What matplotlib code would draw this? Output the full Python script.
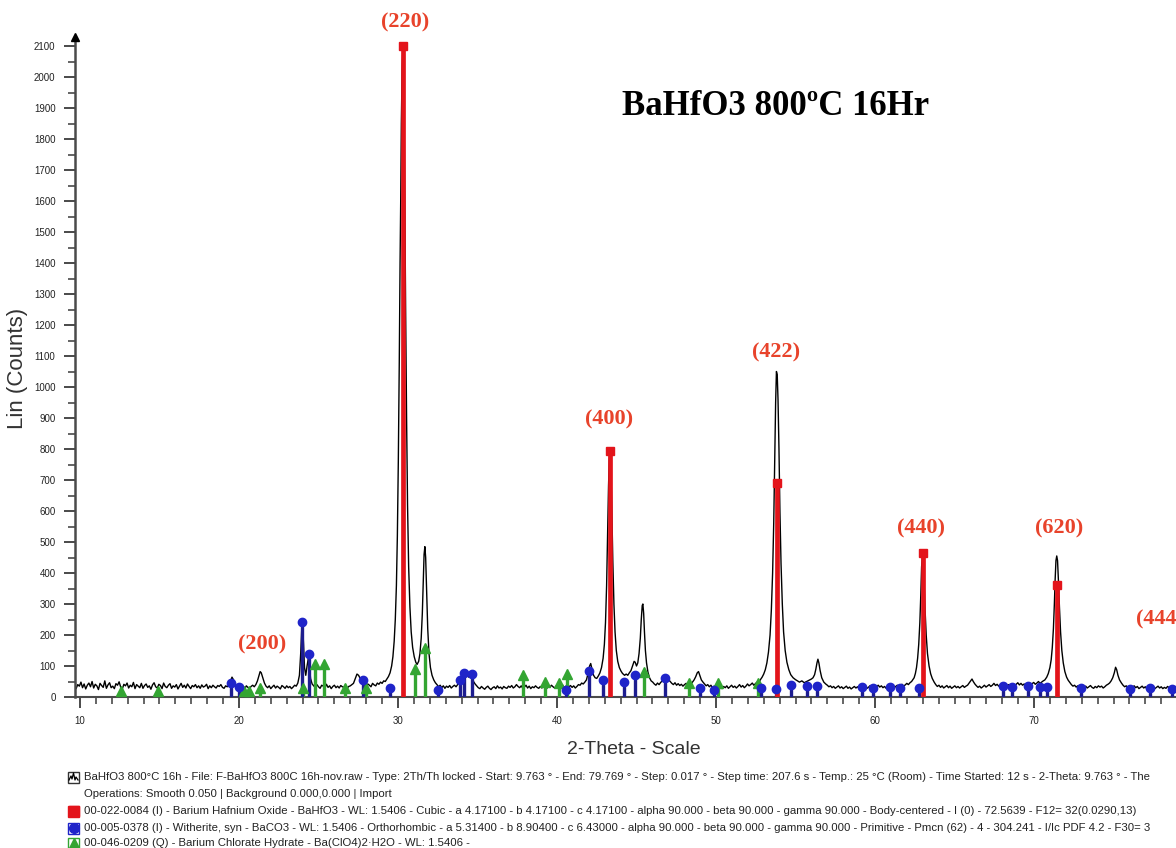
import matplotlib
matplotlib.use("Agg")
import matplotlib.pyplot as plt
from matplotlib.patches import Rectangle
from matplotlib.lines import Line2D

# ---------------- data ----------------
STEP = 0.1  # background noise chunks are listed on a 0.1 deg grid

bg_a = [28,40,35,48,30,42,26,38,45,33, 50,29,41,36,24,44,37,31,52,28,
        39,46,30,35,27,43,38,49,32,26, 41,36,45,29,38,33,47,27,40,35,
        30,44,28,37,42,31,36,25,39,46, 33,29,41,37,27,45,34,30,38,43,
        28,36,32,40,26,35,44,31,38,29, 42,34,27,37,33,40,30,36,28,39,
        32,35,41,27,36,30,38,33,29,37, 34,40,31,28,36,33]
bg_b = [35,28,38,30,26,36,31,27,34,38,33]
bg_c = [30,36,27,33,38,29,35,31,26,37,33,28,36,30,34,27,32,38,35]
bg_d = [36,30,40,33,28,38,35,29,41,31,36,27,34,38,30,35,29,37,33,31,39,28,34,36,40,44]
bg_e = [40,35,42,38,33,44,39,36,45,41,48,44]
bg_f = [40,33,38,30,36,28,35,31,37,29,34,38,33,40]
bg_g = [36,30,27,34,29,25,31,35,28,24, 30,33,27,36,29,32,26,34,30,28,
        35,31,37,29,33,40,34,30,36,28, 32,38,29,35,27,33,30,36,31,28,
        34,29,37,32,27,35,31,38,33,29, 36,31,27,34,39,30,35,28,33,37,
        31,36,29,34,40,38,45,42,48]
bg_h = [42,38,45,40,47]
bg_i = [44,40,46,38,43,37,41,35,40,44,38,45,42,48]
bg_j = [42,36,40,33,38,30,35,28,33,37, 31,27,34,30,36,28,33,38,31,35,
        29,34,40,32,37,30,35,42,36,40, 45,38,43,48,44]
bg_k = [38,33,36,30,34,28,32,36,29,33, 27,31,35,28,32,26,30,34,29,33,
        27,31,36,30,34,28,32,37,31,35, 29,33,38,32,36,30,34,28,33,37,
        31,35,29,34,38,32,36,41,35,39, 44,40,46,50]
bg_l = [40,34,38,31,36,29,33,37,30,35,28,32,36,30,34,29,33,37,31,35,38]
bg_m = [36,31,35,29,33,38,32,36,40,34, 38,44,37,41,35,39,33,37,42,36,
        40,34,38,43,37,41,46,39,44,38, 42,36,41,45,39,43,47,41,45,50,
        44,48,52]
bg_n = [40,35,38,32,36,30,34,38,31,35,29,33,37,31,28,34,30,36,32,35,29,33,38,41,45]
bg_o = [38,33,36,30,34,28,32,36,30,34, 27,31,35,29,33,26,30,34,28,32,
        27,31,35,29,33,27,31,28,34,30, 26,32,29,33,27,31,28]
bg_starts = [9.76, 19.96, 21.8, 24.7, 27.9, 32.45, 34.95, 46.12, 47.22,
             49.28, 57.0, 63.82, 66.38, 72.35, 75.6]

# peak / bump profiles (2theta, counts)
pk_196 = [(19.36,38),(19.46,50),(19.56,64),(19.66,55),(19.76,40),(19.86,32)]
pk_200 = [(21.06,40),(21.16,52),(21.26,70),(21.33,82),(21.4,78),(21.5,62),(21.6,45),(21.7,35)]
pk_240 = [(23.7,45),(23.8,70),(23.88,140),(23.95,225),(24.0,232),(24.06,170),(24.12,95),
          (24.2,70),(24.28,100),(24.36,125),(24.42,105),(24.5,60),(24.6,42)]
pk_275 = [(27.3,58),(27.42,74),(27.52,70),(27.62,60),(27.72,62),(27.82,48)]
pk_220 = [(29.1,52),(29.2,50),(29.3,58),(29.4,66),(29.5,78),(29.6,100),(29.68,130),(29.76,180),
          (29.83,250),(29.9,360),(29.96,520),(30.02,760),(30.08,1080),(30.13,1400),(30.17,1600),
          (30.21,1850),(30.26,2030),(30.3,2080),(30.34,2050),(30.38,1900),(30.43,1600),
          (30.48,1250),(30.54,900),(30.6,620),(30.67,420),(30.75,290),(30.83,210),(30.92,160),
          (31.02,130),(31.12,112),(31.2,105),(31.3,115),(31.38,140),(31.46,190),(31.53,270),
          (31.59,380),(31.64,460),(31.69,485),(31.74,450),(31.8,340),(31.87,220),(31.95,140),
          (32.04,95),(32.14,70),(32.25,55),(32.35,46)]
pk_343 = [(33.85,48),(33.95,55),(34.05,62),(34.15,70),(34.25,66),(34.35,72),(34.45,64),
          (34.55,70),(34.65,62),(34.75,50),(34.85,42)]
pk_400 = [(41.85,55),(41.95,75),(42.05,100),(42.12,108),(42.2,90),(42.3,70),(42.4,62),(42.5,60),
          (42.6,68),(42.7,78),(42.8,95),(42.9,125),(42.98,170),(43.05,240),(43.12,360),
          (43.18,520),(43.24,680),(43.29,770),(43.34,790),(43.39,740),(43.45,600),(43.51,440),
          (43.58,300),(43.65,210),(43.73,150),(43.82,115),(43.92,95),(44.02,84),(44.12,76),
          (44.25,70),(44.35,74),(44.45,70),(44.55,78),(44.65,85),(44.75,100),(44.85,115),
          (44.92,112),(45.0,100),(45.08,110),(45.16,140),(45.24,190),(45.3,250),(45.36,295),
          (45.4,300),(45.45,270),(45.5,210),(45.56,150),(45.63,110),(45.72,80),(45.82,62),
          (45.92,52),(46.02,48)]
pk_469 = [(46.62,52),(46.72,58),(46.82,62),(46.92,60),(47.02,56),(47.12,50)]
pk_489 = [(48.62,55),(48.72,65),(48.82,78),(48.9,82),(48.98,70),(49.08,55),(49.18,48)]
pk_422 = [(52.78,55),(52.9,64),(53.0,74),(53.1,88),(53.2,110),(53.3,145),(53.4,200),(53.48,280),
          (53.56,400),(53.63,560),(53.69,760),(53.75,950),(53.8,1050),(53.85,1040),(53.9,960),
          (53.96,800),(54.02,600),(54.09,430),(54.17,300),(54.25,210),(54.35,150),(54.46,112),
          (54.58,88),(54.7,72),(54.85,62),(55.0,56),(55.12,52),(55.25,48),(55.4,52),(55.55,46),
          (55.7,50),(55.85,54),(56.0,58),(56.1,62),(56.2,72),(56.28,90),(56.35,110),(56.41,122),
          (56.47,110),(56.55,85),(56.65,62),(56.78,48),(56.9,42)]
pk_440 = [(62.38,56),(62.46,62),(62.54,76),(62.61,95),(62.68,125),(62.75,170),(62.82,240),
          (62.88,330),(62.93,420),(62.98,452),(63.03,440),(63.09,370),(63.15,280),(63.22,200),
          (63.3,140),(63.4,100),(63.5,75),(63.6,60),(63.72,48)]
pk_661 = [(65.92,45),(66.02,52),(66.1,58),(66.18,50),(66.28,42)]
pk_620 = [(70.68,55),(70.8,64),(70.9,76),(71.0,95),(71.08,120),(71.15,160),(71.22,220),
          (71.28,300),(71.33,380),(71.38,440),(71.43,455),(71.48,440),(71.54,370),(71.6,290),
          (71.67,210),(71.75,150),(71.84,110),(71.94,82),(72.05,64),(72.15,54),(72.25,47)]
pk_751 = [(74.85,52),(74.95,62),(75.05,78),(75.13,96),(75.2,88),(75.28,70),(75.38,55),(75.5,45)]

# reference patterns (stick positions / intensities)
bahfo3_pos = [30.30, 43.33, 53.83, 63.00, 71.44]
bahfo3_int = [2100, 795, 690, 465, 360]
baco3_pos = [19.50, 20.00, 23.96, 24.38, 27.80, 29.50, 32.50, 33.90, 34.15, 34.65, 40.55,
             42.00, 42.90, 44.21, 44.91, 46.79, 49.00, 49.85, 52.80, 53.80, 54.70, 55.70,
             56.35, 59.20, 59.90, 60.95, 61.55, 62.75, 68.05, 68.60, 69.60, 70.40, 70.80,
             72.95, 76.05, 77.30, 78.65]
baco3_int = [45, 32, 242, 139, 55, 30, 22, 55, 77, 74, 22,
             84, 55, 47, 71, 61, 30, 22, 28, 25, 40, 35,
             35, 33, 28, 33, 28, 28, 37, 33, 37, 33, 33,
             28, 25, 28, 25]
bacl_pos = [12.60, 14.90, 20.30, 20.60, 21.35, 24.00, 24.80, 25.35, 26.65, 28.00, 31.10,
            31.70, 37.85, 39.25, 40.10, 40.65, 45.45, 48.30, 50.15, 52.65]
bacl_int = [20, 20, 18, 20, 30, 28, 108, 105, 28, 30, 90,
            158, 71, 47, 45, 74, 82, 45, 45, 45]

peak_labels = ["(200)", "(220)", "(400)", "(422)", "(440)", "(620)", "(444"]
peak_label_x = [21.45, 30.45, 43.3, 53.8, 62.9, 71.6, 76.4]
peak_label_y = [168, 2175, 895, 1110, 545, 545, 250]
peak_label_ha = ["center", "center", "center", "center", "center", "center", "left"]

title = "BaHfO3 800ºC 16Hr"
legend_lines = [
    "BaHfO3 800°C 16h - File: F-BaHfO3 800C 16h-nov.raw - Type: 2Th/Th locked - Start: 9.763 ° - End: 79.769 ° - Step: 0.017 ° - Step time: 207.6 s - Temp.: 25 °C (Room) - Time Started: 12 s - 2-Theta: 9.763 ° - The",
    "Operations: Smooth 0.050 | Background 0.000,0.000 | Import",
    "00-022-0084 (I) - Barium Hafnium Oxide - BaHfO3 - WL: 1.5406 - Cubic - a 4.17100 - b 4.17100 - c 4.17100 - alpha 90.000 - beta 90.000 - gamma 90.000 - Body-centered - I (0) - 72.5639 - F12= 32(0.0290,13)",
    "00-005-0378 (I) - Witherite, syn - BaCO3 - WL: 1.5406 - Orthorhombic - a 5.31400 - b 8.90400 - c 6.43000 - alpha 90.000 - beta 90.000 - gamma 90.000 - Primitive - Pmcn (62) - 4 - 304.241 - I/Ic PDF 4.2 - F30= 3",
    "00-046-0209 (Q) - Barium Chlorate Hydrate - Ba(ClO4)2·H2O - WL: 1.5406 -",
]

# ---------------- assemble scan ----------------
bg_chunks = [bg_a, bg_b, bg_c, bg_d, bg_e, bg_f, bg_g, bg_h, bg_i, bg_j, bg_k, bg_l, bg_m, bg_n, bg_o]
pts = []
for start, vals in zip(bg_starts, bg_chunks):
    pts += [(round(start + STEP * i, 3), v) for i, v in enumerate(vals)]
for pk in [pk_196, pk_200, pk_240, pk_275, pk_220, pk_343, pk_400, pk_469, pk_489,
           pk_422, pk_440, pk_661, pk_620, pk_751]:
    pts += pk
pts.sort()
two_theta = [p[0] for p in pts]
counts = [p[1] for p in pts]

# ---------------- figure ----------------
W, H = 1176, 848
fig = plt.figure(figsize=(W / 100, H / 100), dpi=100)
fig.patch.set_facecolor("white")

ax_left, ax_right, ax_bottom, ax_top = 75, 1176, 697, 46
ax = fig.add_axes([ax_left / W, 1 - ax_bottom / H, (ax_right - ax_left) / W, (ax_bottom - ax_top) / H])
ax.set_xlim(9.686, 78.93)
ax.set_ylim(0, 2100)

red = "#e3141b"
blue_stick = "#1d1d8f"
blue_mark = "#1f24c9"
green = "#33a532"
axis_col = "#4a4a4a"

ax.plot(two_theta, counts, color="black", lw=1.0, zorder=3)

ax.vlines(bacl_pos, 0, bacl_int, color=green, lw=2.4, zorder=4)
ax.plot(bacl_pos, bacl_int, ls="none", marker="^", ms=6.5, color=green, zorder=5)
ax.vlines(baco3_pos, 0, baco3_int, color=blue_stick, lw=2.4, zorder=4)
ax.plot(baco3_pos, baco3_int, ls="none", marker="o", ms=6, color=blue_mark, zorder=5)
ax.vlines(bahfo3_pos, 0, bahfo3_int, color=red, lw=3.4, zorder=4)
ax.plot(bahfo3_pos, bahfo3_int, ls="none", marker="s", ms=6, color=red, zorder=5, clip_on=False)

for lab, lx, ly, ha in zip(peak_labels, peak_label_x, peak_label_y, peak_label_ha):
    ax.text(lx, ly, lab, color="#e8432b", fontsize=16, fontweight="bold",
            family="Liberation Serif", ha=ha, va="center", clip_on=False)

ax.text(44.1, 1905, title, fontsize=25, fontweight="bold", family="Liberation Serif",
        ha="left", va="center", color="black")

# axes styling
for s in ["top", "right", "left"]:
    ax.spines[s].set_visible(False)
ax.spines["bottom"].set_color(axis_col)
ax.spines["bottom"].set_linewidth(1.5)
ax.plot([9.686, 9.686], [0, 2125], color=axis_col, lw=1.8, clip_on=False, zorder=6)
ax.plot([9.686], [2128], marker="^", ms=6, color="black", clip_on=False, zorder=7)

ax.set_xticks(range(10, 80, 10))
ax.set_xticks(range(10, 79), minor=True)
ax.set_yticks(range(0, 2101, 100))
ax.set_yticks(range(50, 2101, 100), minor=True)
ax.tick_params(which="major", direction="out", length=8, width=1.4, color=axis_col,
               labelsize=7, labelcolor="#222222", pad=6)
ax.tick_params(which="minor", direction="out", length=5, width=1.2, color=axis_col)
for lbl in ax.get_xticklabels() + ax.get_yticklabels():
    lbl.set_family("Liberation Sans")

fig.text(18 / W, 1 - 368 / H, "Lin (Counts)", rotation=90, fontsize=16, color="#333333",
         family="Liberation Sans", ha="center", va="center")
fig.text(634 / W, 1 - 750 / H, "2-Theta - Scale", fontsize=14, color="#333333",
         family="Liberation Sans", ha="center", va="center")

# bottom legend block
line_y = [777, 794, 811, 828, 843]
for txt, ty in zip(legend_lines, line_y):
    fig.text(84 / W, 1 - ty / H, txt, fontsize=8.2, color="#222222", family="Liberation Sans",
             ha="left", va="center")

box = 11
icons = [(0, "scan"), (2, "s"), (3, "o"), (4, "^")]
icon_cols = {"s": red, "o": blue_mark, "^": green}
for idx, kind in icons:
    cy = line_y[idx]
    x0 = 68
    ec = "#333333" if kind == "scan" else icon_cols[kind]
    fig.add_artist(Rectangle((x0 / W, 1 - (cy + box / 2) / H), box / W, box / H,
                             transform=fig.transFigure, facecolor="white", edgecolor=ec, lw=1))
    if kind == "scan":
        xs = [x0 + 1, x0 + 3, x0 + 4, x0 + 5.5, x0 + 7, x0 + 8, x0 + 10]
        ys = [cy + 3, cy - 1, cy + 2, cy - 4, cy + 3, cy, cy + 3]
        fig.add_artist(Line2D([x / W for x in xs], [1 - y / H for y in ys],
                              transform=fig.transFigure, color="black", lw=0.9))
    else:
        fig.add_artist(Line2D([(x0 + box / 2) / W], [1 - cy / H], transform=fig.transFigure,
                              marker=kind, ms=7, color=icon_cols[kind], ls="none"))

fig.savefig("out.png", dpi=100, facecolor="white")
